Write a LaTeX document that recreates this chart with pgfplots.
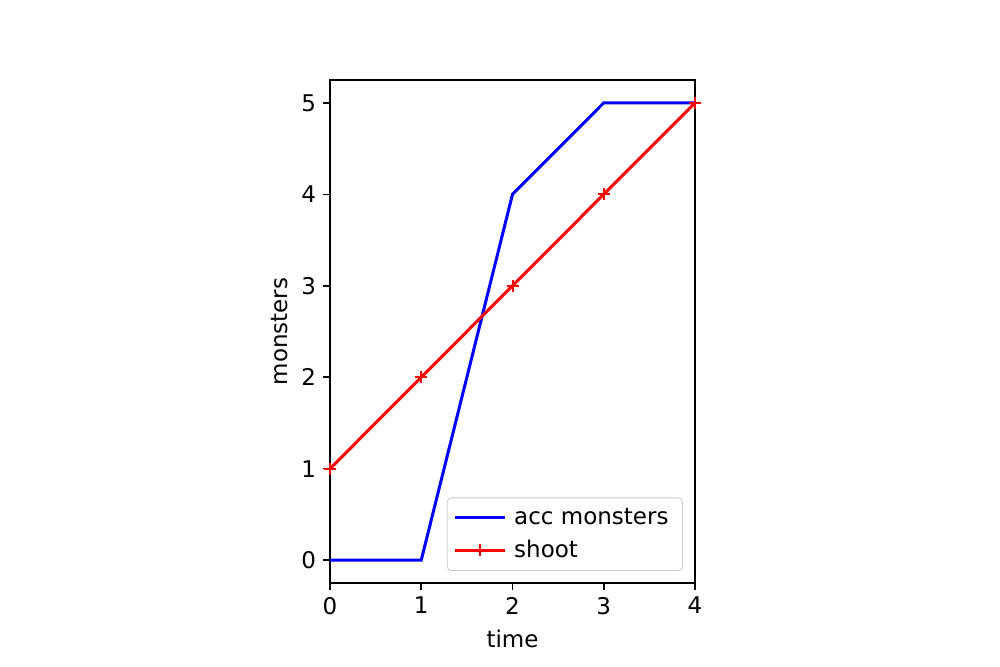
\documentclass[border=0pt]{standalone}
\usepackage{pgfplots}
\pgfplotsset{compat=1.18}
\usepackage{fontspec}
\setmainfont{DejaVu Sans}
\begin{document}
\begin{tikzpicture}[x=1pt,y=1pt]
\path[use as bounding box] (0,0) rectangle (500,333.5);
\begin{axis}[
  at={(165pt,42pt)}, anchor=south west,
  scale only axis, width=182.5pt, height=251.5pt,
  xmin=0, xmax=4, ymin=-0.25, ymax=5.25,
  xtick={0,1,2,3,4}, ytick={0,1,2,3,4,5},
  tick align=outside, major tick length=3.5pt,
  tick style={line width=0.8pt, black},
  axis line style={line width=0.8pt},
  xtick pos=bottom, ytick pos=left,
  /pgf/number format/assume math mode=true,
  tick label style={font=\fontsize{11.5}{13.8}\selectfont},
  label style={font=\fontsize{11.5}{13.8}\selectfont},
  xlabel={time}, ylabel={monsters},
  xlabel style={yshift=-1pt},
  ylabel style={yshift=0pt},
  legend style={at={(0.967,0.024)}, anchor=south east,
    draw=black!20, rounded corners=2pt, fill=white, fill opacity=0.8, text opacity=1,
    font=\fontsize{11.5}{13.8}\selectfont, row sep=2.5pt, inner xsep=3pt, inner ysep=3pt,
    nodes={inner xsep=4pt}},
  legend cell align=left,
  legend image code/.code={
    \draw[mark repeat=2,mark phase=2,#1] plot coordinates {(0pt,0pt) (12.5pt,0pt) (25pt,0pt)};
  },
  clip=false,
]
\addplot[color=blue, line width=1.5pt] coordinates {(0,0) (1,0) (2,4) (3,5) (4,5)};
\addlegendentry{acc monsters}
\addplot[color=red, line width=1.5pt, mark=+, mark size=3pt, mark options={line width=1pt}] coordinates {(0,1) (1,2) (2,3) (3,4) (4,5)};
\addlegendentry{shoot}
\end{axis}
\end{tikzpicture}
\end{document}
